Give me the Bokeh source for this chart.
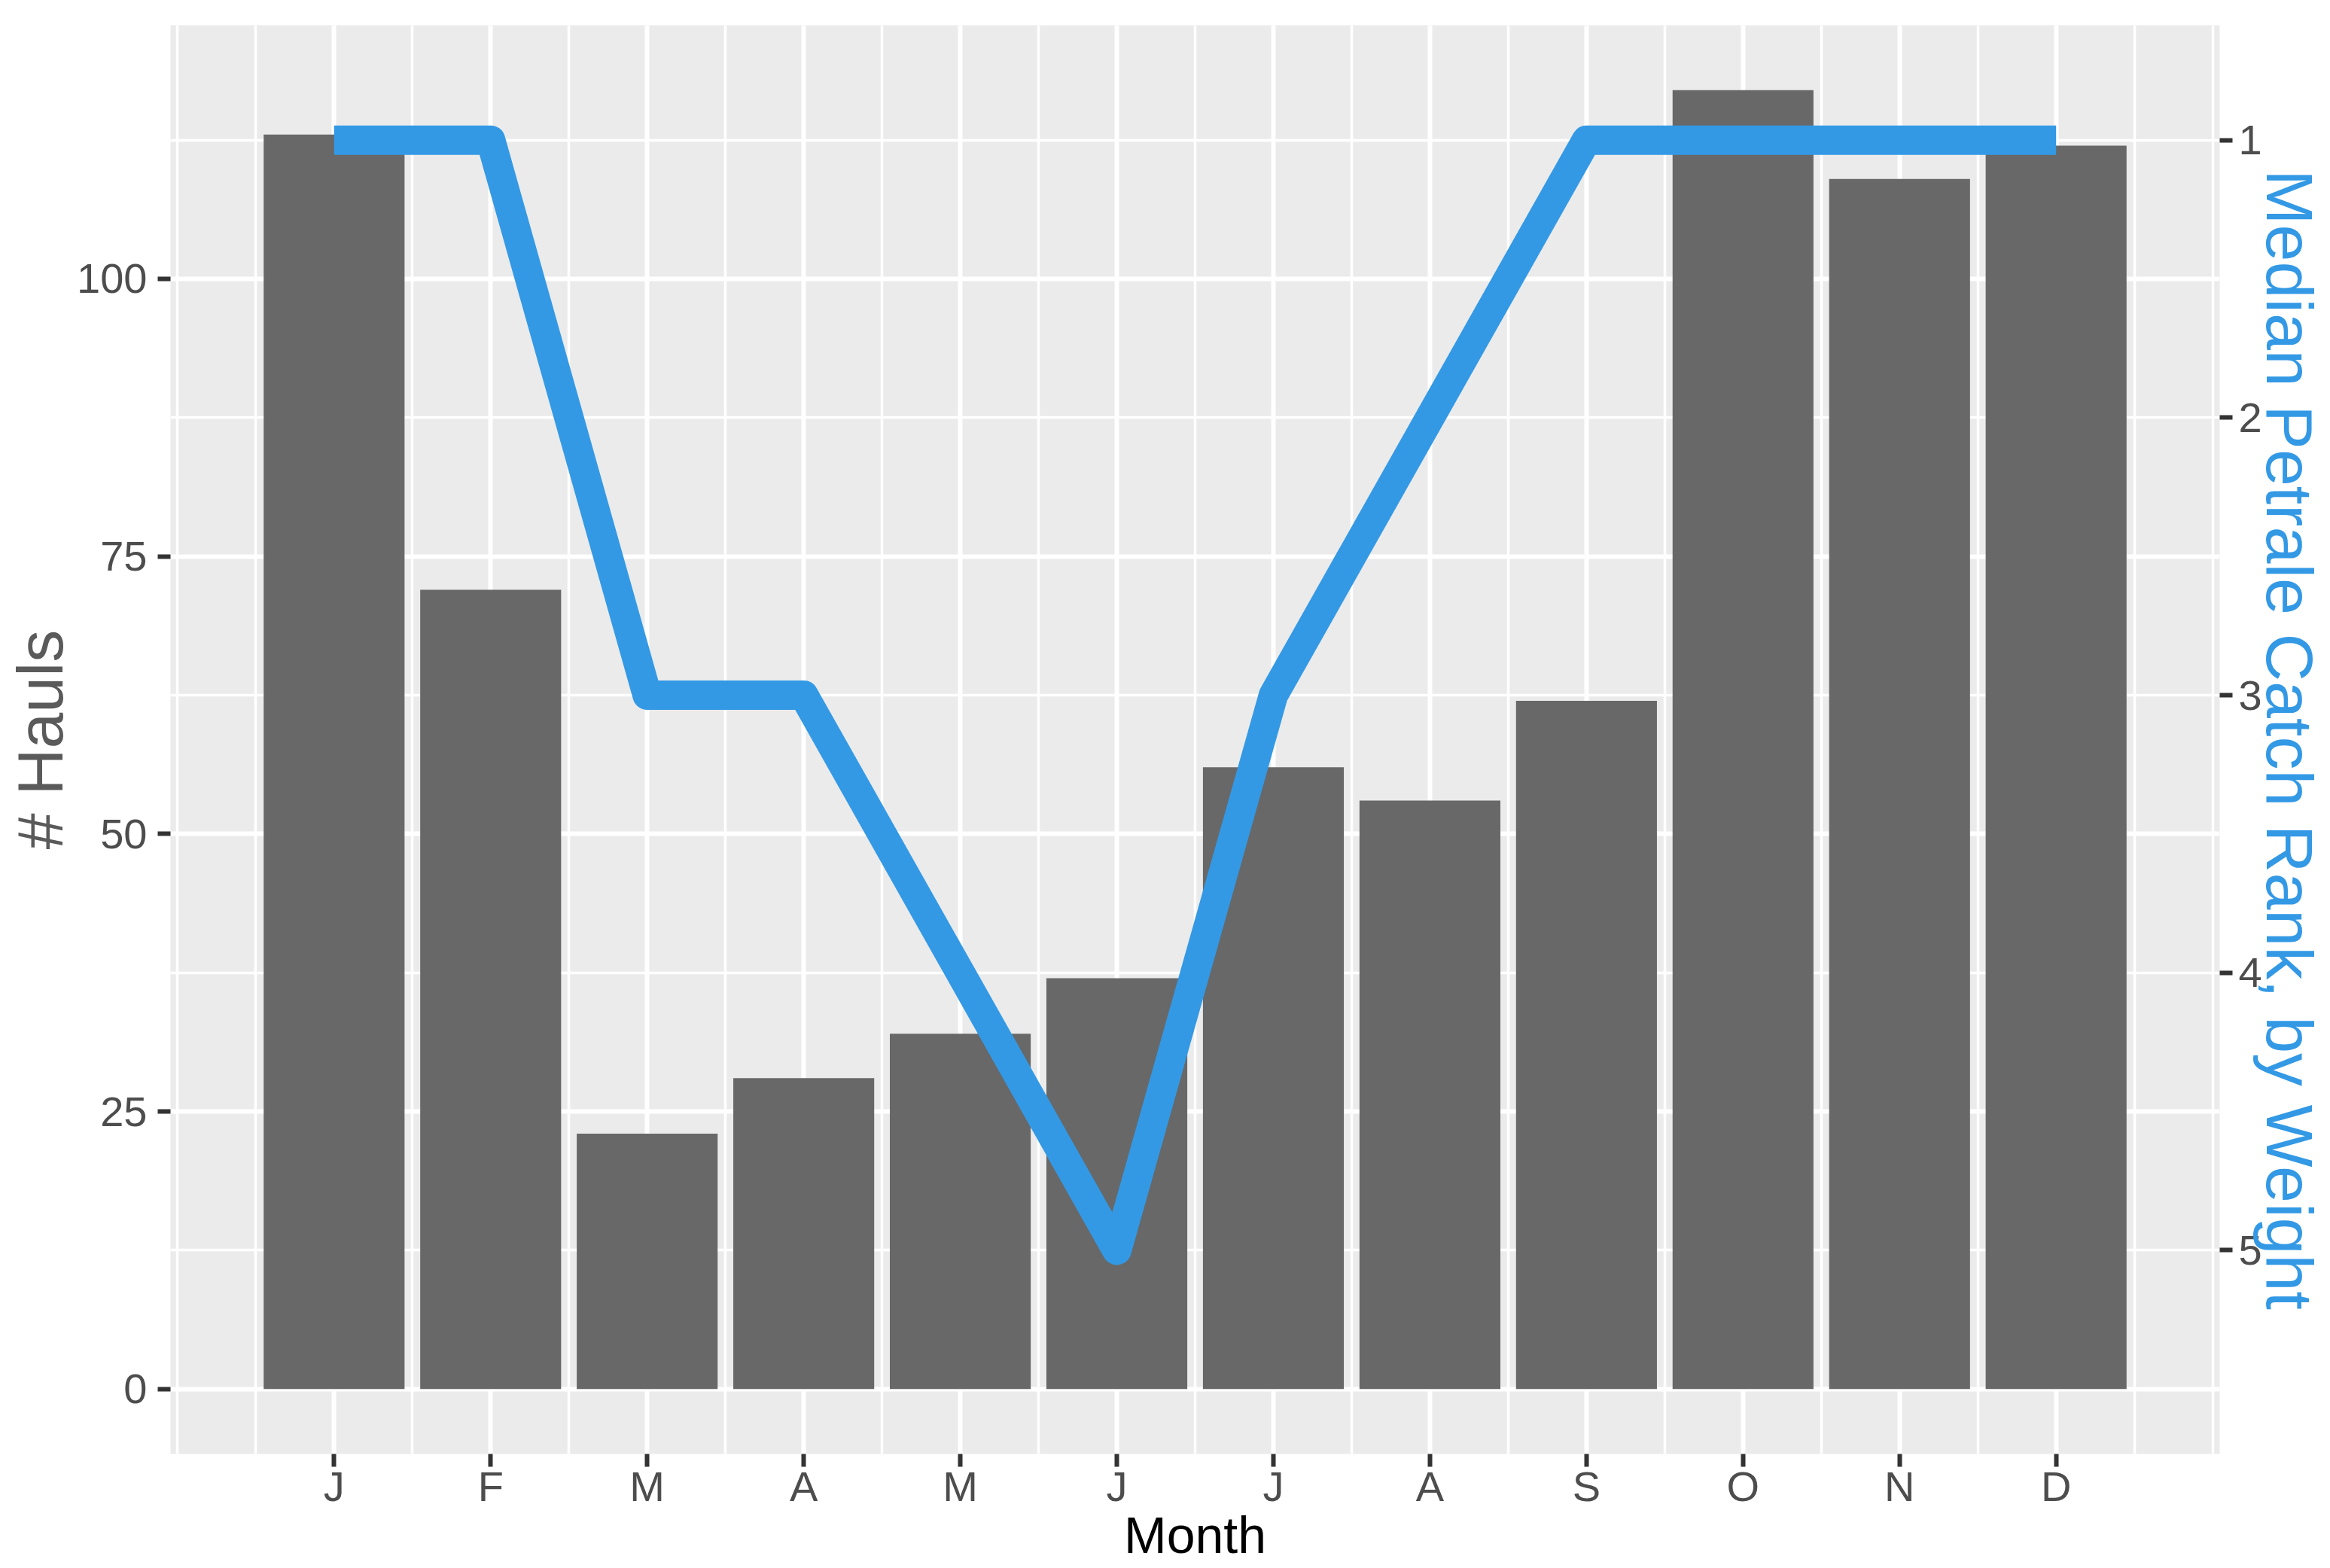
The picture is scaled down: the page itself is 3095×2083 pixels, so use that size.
from bokeh.plotting import figure
from bokeh.models import Range1d, LinearAxis, FixedTicker
from bokeh.embed import file_html
from bokeh.resources import INLINE

# ---- data ----
months = ["J", "F", "M", "A", "M", "J", "J", "A", "S", "O", "N", "D"]
month_num = list(range(1, 13))
hauls = [113, 72, 23, 28, 32, 37, 56, 53, 62, 117, 109, 112]
median_rank = [1, 1, 3, 3, 4, 5, 3, 2, 1, 1, 1, 1]
left_ticks = [0, 25, 50, 75, 100]
left_minor = [12.5, 37.5, 62.5, 87.5, 112.5]
rank_ticks = [1, 2, 3, 4, 5]

BLUE = "#3399E5"
BAR = "#686868"
FONT = "Liberation Sans"

W, H = 3095, 2083
FL, FR, FT, FB = 226, 2948, 33, 1931   # frame edges in canvas px

p = figure(width=W, height=H, output_backend="svg", toolbar_location=None,
           x_range=Range1d(-0.045, 13.045), y_range=Range1d(-5.85, 122.85),
           min_border_left=FL, min_border_right=W - FR, min_border_top=FT,
           min_border_bottom=H - FB)
p.extra_y_ranges = {"rank": Range1d(start=5.734, end=0.586)}

p.background_fill_color = "#EBEBEB"
p.border_fill_color = "white"
p.outline_line_color = None

# grid
x_minor = [0.0] + [i + 0.5 for i in range(0, 13)] + [13.0]
p.xgrid.ticker = FixedTicker(ticks=month_num, minor_ticks=x_minor)
p.ygrid.ticker = FixedTicker(ticks=left_ticks, minor_ticks=left_minor)
for g in (p.xgrid, p.ygrid):
    g.grid_line_color = "white"
    g.grid_line_width = 6
    g.minor_grid_line_color = "white"
    g.minor_grid_line_width = 3.5

# bars and line
p.vbar(x=month_num, top=hauls, bottom=0, width=0.9, fill_color=BAR, line_color=None)
p.line(month_num, median_rank, y_range_name="rank", line_width=39, line_color=BLUE,
       line_join="round", line_cap="butt")

# axes
p.xaxis.ticker = FixedTicker(ticks=month_num)
p.xaxis.major_label_overrides = {m: lab for m, lab in zip(month_num, months)}
p.xaxis.major_label_standoff = -6
p.xaxis.axis_label = "Month"
p.xaxis.axis_label_text_color = "black"
p.xaxis.axis_label_text_font_size = "68px"
p.xaxis.axis_label_standoff = -8

p.yaxis.ticker = FixedTicker(ticks=left_ticks)
p.yaxis.major_label_standoff = 14
p.yaxis.axis_label = "# Hauls"
p.yaxis.axis_label_text_color = "#5A5A5A"
p.yaxis.axis_label_text_font_size = "86px"
p.yaxis.axis_label_standoff = -2

ax_r = LinearAxis(y_range_name="rank", ticker=FixedTicker(ticks=rank_ticks),
                  axis_label="Median Petrale Catch Rank, by Weight")
ax_r.major_label_standoff = 8
ax_r.axis_label_text_color = BLUE
ax_r.axis_label_text_font_size = "88px"
ax_r.axis_label_standoff = -16
p.add_layout(ax_r, "right")

for ax in (p.xaxis[0], p.yaxis[0], ax_r):
    ax.axis_line_color = None
    ax.major_tick_in = 0
    ax.major_tick_out = 17
    ax.major_tick_line_color = "#333333"
    ax.major_tick_line_width = 6
    ax.minor_tick_line_color = None
    ax.major_label_text_font = FONT
    ax.major_label_text_font_size = "56px"
    ax.major_label_text_color = "#4D4D4D"
    ax.axis_label_text_font = FONT
    ax.axis_label_text_font_style = "normal"

open("out.html", "w").write(file_html(p, INLINE))
